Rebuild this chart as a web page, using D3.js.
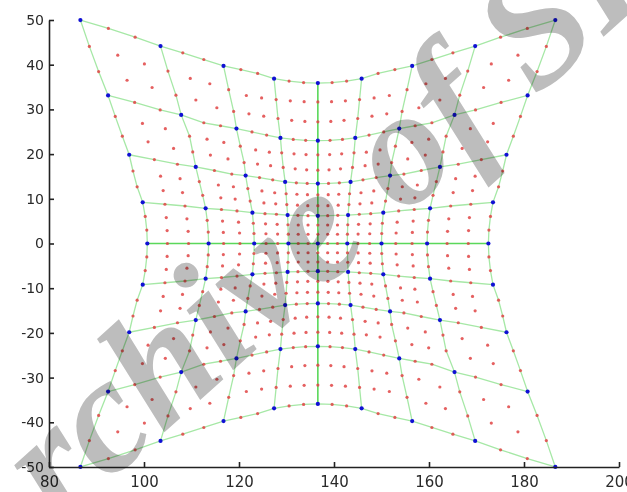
<!DOCTYPE html>
<html>
<head>
<meta charset="utf-8">
<script src="https://cdn.jsdelivr.net/npm/d3@7"></script>
<style>
  html, body { margin: 0; padding: 0; background: #fff; }
  svg { display: block; }
  .tick text { font-family: "DejaVu Sans", sans-serif; fill: #2a2a2a; }
</style>
</head>
<body>
<svg id="chart" width="627" height="492"></svg>
<script>
// Axis ticks
const xTicks = [80, 100, 120, 140, 160, 180, 200];
const yTicks = [-50, -40, -30, -20, -10, 0, 10, 20, 30, 40, 50];

// Undistorted grid: main nodes and the finer sampling (three steps per cell)
const gridNodes = [-4, -3, -2, -1, 0, 1, 2, 3, 4];
const gridSteps = [-4, -11/3, -10/3, -3, -8/3, -7/3, -2, -5/3, -4/3, -1, -2/3, -1/3, 0,
                   1/3, 2/3, 1, 4/3, 5/3, 2, 7/3, 8/3, 3, 10/3, 11/3, 4];

// Radial (pincushion) mapping: grid radius -> plotted radius in data units
const idealRadius     = [0, 1,   1.414, 2,    2.236, 2.828, 3,    3.162, 3.606, 4,    4.123, 4.243, 4.472, 5,    5.657];
const distortedRadius = [0, 6.2, 9.0,   13.4, 15.4,  21.5,  23.0, 24.9,  30.9,  35.9, 38.0,  40.7,  44.4,  55.2, 70.7];

// Centre of distortion in data coordinates
const centreX = [136.6];
const centreY = [0];

const svg = d3.select("#chart");
svg.append("rect").attr("width", 627).attr("height", 492).attr("fill", "#fff");

const x = d3.scaleLinear().domain([80, 200]).range([49, 619]);
const y = d3.scaleLinear().domain([-50, 50]).range([467, 20]);
const radial = d3.scaleLinear().domain(idealRadius).range(distortedRadius);

function warp(u, v) {
  const r = Math.hypot(u, v);
  const f = r === 0 ? 0 : radial(r) / r;
  return [centreX[0] + u * f, centreY[0] + v * f];
}

const plot = svg.append("g");

// Grid lines through the fine samples
const line = d3.line().x(d => x(d[0])).y(d => y(d[1]));
const gridLines = [];
gridNodes.forEach(g => {
  gridLines.push({ main: g === 0, pts: gridSteps.map(s => warp(g, s)) });
  gridLines.push({ main: g === 0, pts: gridSteps.map(s => warp(s, g)) });
});
plot.append("g").selectAll("path").data(gridLines).join("path")
  .attr("d", d => line(d.pts))
  .attr("fill", "none")
  .attr("stroke", d => d.main ? "#5ad85a" : "#a6e8a6")
  .attr("stroke-width", d => d.main ? 1.6 : 1.3);

// Fine sample points
const isNode = s => gridNodes.includes(s);
const fine = [];
gridSteps.forEach(u => gridSteps.forEach(v => {
  if (!(isNode(u) && isNode(v))) fine.push(warp(u, v));
}));
plot.append("g").selectAll("circle").data(fine).join("circle")
  .attr("cx", d => x(d[0])).attr("cy", d => y(d[1]))
  .attr("r", 1.6)
  .attr("fill", "#e04444")
  .attr("fill-opacity", 0.85);

// Main grid nodes
const nodes = [];
gridNodes.forEach(u => gridNodes.forEach(v => nodes.push(warp(u, v))));
plot.append("g").selectAll("circle").data(nodes).join("circle")
  .attr("cx", d => x(d[0])).attr("cy", d => y(d[1]))
  .attr("r", 2.1)
  .attr("fill", "#1010d4");

// Axes (ticks pointing inward, no box)
const fmt = d => String(d);
const xAxis = svg.append("g").attr("transform", "translate(0,467)")
  .call(d3.axisBottom(x).tickValues(xTicks).tickFormat(fmt).tickSizeInner(-5).tickSizeOuter(0).tickPadding(9));
const yAxis = svg.append("g").attr("transform", "translate(49,0)")
  .call(d3.axisLeft(y).tickValues(yTicks).tickFormat(fmt).tickSizeInner(-5).tickSizeOuter(0).tickPadding(5));
[xAxis, yAxis].forEach(a => {
  a.select(".domain").attr("stroke", "#222").attr("stroke-width", 1.6);
  a.selectAll(".tick line").attr("stroke", "#222").attr("stroke-width", 1.6);
});
xAxis.selectAll(".tick text").style("font-size", "15px");
yAxis.selectAll(".tick text").style("font-size", "14px");

// Archive mark across the figure
svg.append("text")
  .attr("transform", "translate(-22,600) rotate(-42)")
  .attr("font-family", "Liberation Serif, serif")
  .attr("font-style", "italic")
  .attr("font-weight", "bold")
  .attr("font-size", 165)
  .attr("fill", "#bdbdbd")
  .style("mix-blend-mode", "multiply")
  .text("Archive of SID");
</script>
</body>
</html>
